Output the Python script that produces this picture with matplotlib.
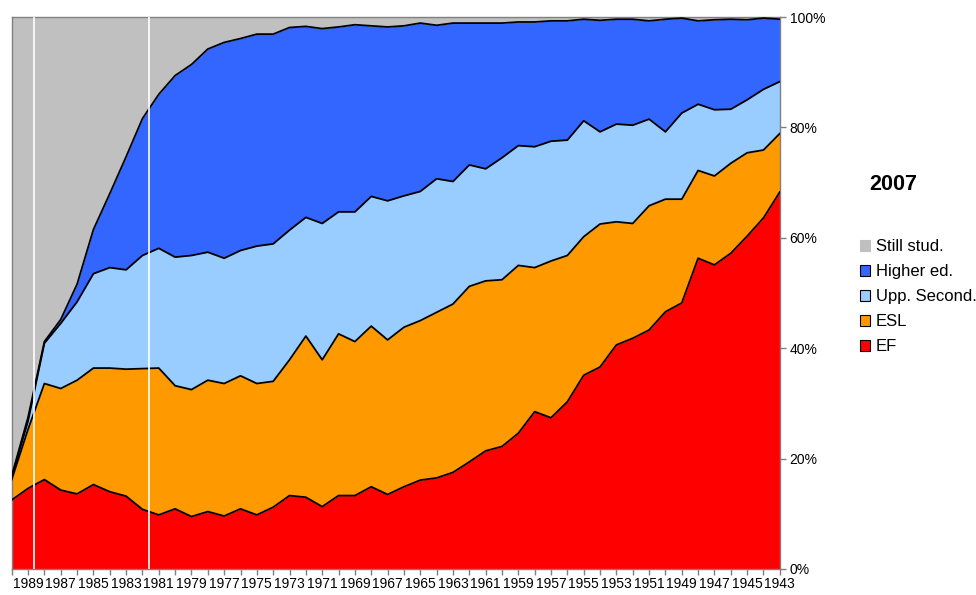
import numpy as np
import matplotlib
matplotlib.use("Agg")
import matplotlib.pyplot as plt
from matplotlib.patches import Patch

plt.rcParams["font.family"] = ["Liberation Sans", "DejaVu Sans"]

# birth cohorts, plotted newest on the left
years = list(range(1990, 1942, -1))

# shares per cohort (%), bottom to top of the stack
ef = [12.5, 14.6, 16.2, 14.3, 13.6, 15.3, 14.0, 13.2, 10.8, 9.8, 10.9, 9.5,
      10.4, 9.6, 10.9, 9.8, 11.2, 13.3, 13.0, 11.3, 13.3, 13.3, 14.9, 13.5,
      14.9, 16.1, 16.5, 17.5, 19.4, 21.4, 22.2, 24.6, 28.5, 27.4, 30.3, 35.1,
      36.6, 40.6, 41.8, 43.3, 46.6, 48.2, 56.3, 55.1, 57.2, 60.3, 63.6, 68.3]
esl = [3.7, 10.7, 17.4, 18.4, 20.6, 21.1, 22.4, 23.0, 25.5, 26.6, 22.3, 23.0,
       23.8, 24.0, 24.1, 23.8, 22.8, 24.6, 29.2, 26.6, 29.3, 27.9, 29.1, 28.0,
       28.9, 28.9, 30.0, 30.5, 31.8, 30.8, 30.2, 30.4, 26.1, 28.4, 26.5, 25.1,
       25.9, 22.3, 20.8, 22.5, 20.4, 18.8, 15.9, 16.1, 16.3, 15.1, 12.3, 10.6]
upp = [0.4, 1.5, 7.3, 11.8, 14.2, 17.1, 18.2, 18.0, 20.5, 21.7, 23.3, 24.3,
       23.2, 22.7, 22.7, 24.9, 24.9, 23.5, 21.5, 24.7, 22.1, 23.5, 23.5, 25.2,
       23.8, 23.4, 24.2, 22.2, 22.0, 20.3, 22.1, 21.7, 21.9, 21.7, 20.9, 21.0,
       16.7, 17.7, 17.8, 15.7, 12.2, 15.6, 12.0, 12.0, 9.8, 9.6, 11.0, 9.4]
higher = [0.3, 0.7, 0.3, 0.7, 3.2, 8.0, 13.4, 20.5, 24.8, 27.9, 32.9, 34.6,
          36.8, 39.1, 38.4, 38.4, 38.0, 36.7, 34.6, 35.3, 33.5, 33.9, 30.9, 31.5,
          30.8, 30.5, 27.8, 28.7, 25.7, 26.4, 24.4, 22.4, 22.6, 21.8, 21.6, 18.4,
          20.2, 19.0, 19.2, 17.8, 20.4, 17.2, 15.1, 16.3, 16.3, 14.5, 12.9, 11.3]
still = [83.1, 72.5, 58.8, 54.8, 48.4, 38.5, 32.0, 25.3, 18.4, 14.0, 10.6, 8.6,
         5.8, 4.6, 3.9, 3.1, 3.1, 1.9, 1.7, 2.1, 1.8, 1.4, 1.6, 1.8,
         1.6, 1.1, 1.5, 1.1, 1.1, 1.1, 1.1, 0.9, 0.9, 0.7, 0.7, 0.4,
         0.6, 0.4, 0.4, 0.7, 0.4, 0.2, 0.7, 0.5, 0.4, 0.5, 0.2, 0.4]

labels = ["EF", "ESL", "Upp. Second.", "Higher ed.", "Still stud."]
colors = ["#FF0000", "#FF9900", "#99CCFF", "#3366FF", "#C0C0C0"]
series = [ef, esl, upp, higher, still]

fig = plt.figure(figsize=(9.76, 5.95), dpi=100)
ax = fig.add_axes([0.012, 0.0437, 0.787, 0.9277])

x = np.array(years)
vals = np.array(series)
total = vals.sum(axis=0)
cum = np.cumsum(vals / total * 100, axis=0)
base = np.zeros(len(years))
for i, (c, top) in enumerate(zip(colors, cum)):
    ax.fill_between(x, base, top, color=c, lw=0, zorder=1)
    if i < len(series) - 1:
        ax.plot(x, top, color="black", lw=1.3, zorder=3)
    base = top

# thin white verticals seen in the source chart
for xv in (1988.65, 1981.6):
    ax.axvline(xv, color="white", lw=1.2, zorder=5)

ax.set_xlim(1990, 1943)
ax.set_ylim(0, 100)

ax.yaxis.tick_right()
ax.set_yticks(range(0, 101, 20))
ax.set_yticklabels([f"{v}%" for v in range(0, 101, 20)])
ax.set_xticks(years)
ax.set_xticklabels([str(y) if (1990 - y) % 2 == 1 else "" for y in years])
ax.tick_params(axis="both", colors="#808080", labelcolor="black",
               labelsize=10, length=4, width=1)
ax.tick_params(axis="x", pad=2)
ax.tick_params(axis="y", pad=3)
for s in ax.spines.values():
    s.set_color("#808080")
    s.set_linewidth(1)

fig.text(0.915, 0.69, "2007", fontsize=15.5, fontweight="bold",
         ha="center", va="center")

handles = [Patch(facecolor=c, edgecolor="black" if l != "Still stud." else c,
                 linewidth=0.8, label=l)
           for l, c in zip(labels[::-1], colors[::-1])]
fig.legend(handles=handles, loc="upper left",
           bbox_to_anchor=(0.881, 0.598), frameon=False, fontsize=12,
           handlelength=0.6, handleheight=0.6, handletextpad=0.35,
           labelspacing=0.6, borderpad=0, borderaxespad=0)

fig.savefig("out.png", dpi=100)
